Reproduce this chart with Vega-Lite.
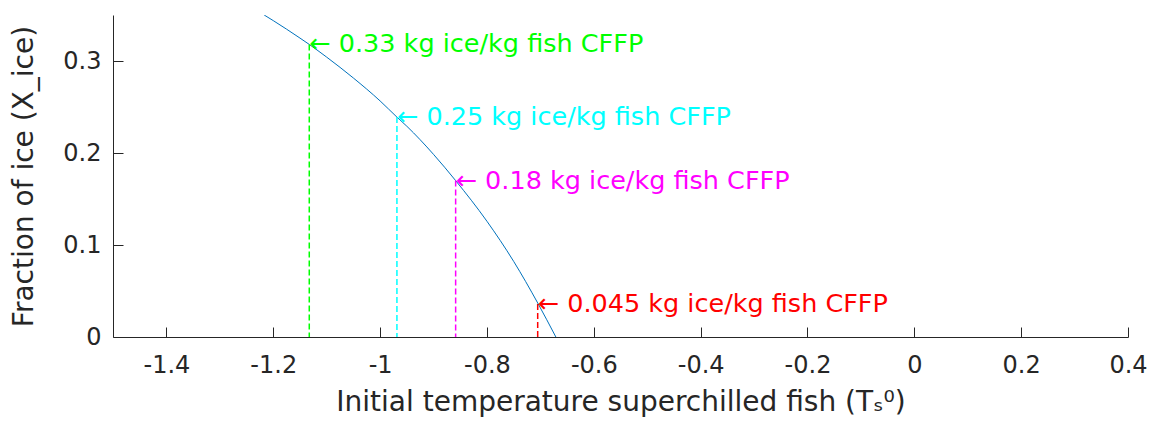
{
  "$schema": "https://vega.github.io/schema/vega-lite/v6.json",
  "autosize": {"type": "none"},
  "padding": {"left": 113, "top": 15, "right": 25, "bottom": 89},
  "width": 1015,
  "height": 322,
  "background": "white",
  "config": {
    "view": {"stroke": null},
    "font": "DejaVu Sans",
    "axis": {
      "domainColor": "#262626",
      "tickColor": "#262626",
      "labelColor": "#262626",
      "titleColor": "#262626",
      "labelFont": "DejaVu Sans",
      "titleFont": "DejaVu Sans",
      "labelFontSize": 24,
      "titleFontSize": 28,
      "titleFontWeight": "normal",
      "grid": false,
      "tickSize": -10,
      "domainWidth": 1,
      "tickWidth": 1
    }
  },
  "datasets": {
    "curve": [
      {"T": -1.217, "X": 0.35},
      {"T": -1.2, "X": 0.3439},
      {"T": -1.15, "X": 0.3249},
      {"T": -1.1326, "X": 0.318},
      {"T": -1.1, "X": 0.3042},
      {"T": -1.05, "X": 0.2815},
      {"T": -1.0, "X": 0.2566},
      {"T": -0.9685, "X": 0.239},
      {"T": -0.95, "X": 0.2291},
      {"T": -0.9, "X": 0.1985},
      {"T": -0.8586, "X": 0.170},
      {"T": -0.8, "X": 0.1258},
      {"T": -0.75, "X": 0.0822},
      {"T": -0.705, "X": 0.037},
      {"T": -0.671, "X": 0}
    ],
    "marks": [
      {"T": -1.1326, "X": 0.318, "label": "← 0.33 kg ice/kg fish CFFP", "grp": "a"},
      {"T": -0.9685, "X": 0.239, "label": "← 0.25 kg ice/kg fish CFFP", "grp": "b"},
      {"T": -0.8586, "X": 0.17, "label": "← 0.18 kg ice/kg fish CFFP", "grp": "c"},
      {"T": -0.705, "X": 0.036, "label": "← 0.045 kg ice/kg fish CFFP", "grp": "d"}
    ]
  },
  "layer": [
    {
      "data": {"name": "curve"},
      "mark": {"type": "line", "color": "#0072BD", "strokeWidth": 1, "interpolate": "monotone", "clip": true},
      "encoding": {
        "x": {
          "field": "T", "type": "quantitative",
          "scale": {"domain": [-1.5, 0.4], "nice": false, "zero": false},
          "axis": {
            "values": [-1.4, -1.2, -1, -0.8, -0.6, -0.4, -0.2, 0, 0.2, 0.4],
            "labelExpr": "replace(format(datum.value, ''), '−', '-')",
            "labelFlush": false,
            "labelPadding": 26,
            "title": "Initial temperature superchilled fish (Tₛ⁰)",
            "titlePadding": 11
          }
        },
        "y": {
          "field": "X", "type": "quantitative",
          "scale": {"domain": [0, 0.35], "nice": false},
          "axis": {
            "values": [0, 0.1, 0.2, 0.3],
            "labelExpr": "format(datum.value, '')",
            "labelFlush": false,
            "labelPadding": 22,
            "title": "Fraction of ice (X_ice)",
            "titlePadding": 24
          }
        }
      }
    },
    {
      "data": {"name": "marks"},
      "mark": {"type": "rule", "strokeDash": [6, 3], "strokeWidth": 1.5},
      "encoding": {
        "x": {"field": "T", "type": "quantitative"},
        "y": {"field": "X", "type": "quantitative"},
        "y2": {"datum": 0},
        "color": {"field": "grp", "type": "nominal", "legend": null,
          "scale": {"domain": ["a", "b", "c", "d"], "range": ["#00FF00", "#00FFFF", "#FF00FF", "#FF0000"]}}
      }
    },
    {
      "data": {"name": "marks"},
      "mark": {"type": "text", "align": "left", "baseline": "middle", "fontSize": 25.5, "font": "DejaVu Sans"},
      "encoding": {
        "x": {"field": "T", "type": "quantitative"},
        "y": {"field": "X", "type": "quantitative"},
        "text": {"field": "label"},
        "color": {"field": "grp", "type": "nominal", "legend": null}
      }
    }
  ]
}
